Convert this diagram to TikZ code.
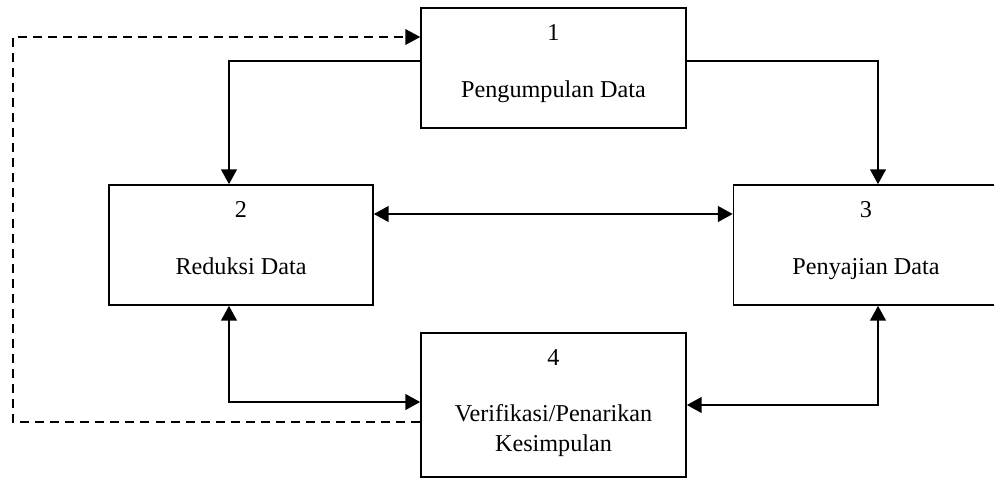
\documentclass[tikz,border=0pt]{standalone}
\usepackage{fontspec}
\setmainfont{Liberation Serif}
\usetikzlibrary{arrows.meta}

\begin{document}
\begin{tikzpicture}[
  box/.style={draw, line width=1.1pt, minimum width=6.625cm, minimum height=3cm, inner sep=0pt},
  lbl/.style={anchor=base, inner sep=0pt, font=\fontsize{17.2}{21}\selectfont},
  flow/.style={line width=1.7pt, -{Triangle[length=10.5pt,width=11pt]}},
  both/.style={line width=1.7pt, {Triangle[length=10.5pt,width=11pt]}-{Triangle[length=10.5pt,width=11pt]}},
  back/.style={line width=1.2pt, dash pattern=on 6.4pt off 4.3pt, -{Triangle[length=10.5pt,width=11pt]}}]
\useasboundingbox (0,0) rectangle (24.85,-11.975);

% boxes
\node[box] (peng) at (13.8375,-1.7) {};
\node[box, minimum width=6.6cm] (red) at (6.025,-6.125) {};
\node[box] (saji) at (21.65,-6.125) {};
\node[box, minimum height=3.6cm] (veri) at (13.8375,-10.125) {};

% texts
\path (peng.north) ++(0,-0.825) node[lbl] (n1) {1};
\path (peng.north) ++(0,-2.25) node[lbl] (t1) {Pengumpulan Data};
\path (red.north) ++(0,-0.825) node[lbl] (n2) {2};
\path (red.north) ++(0,-2.25) node[lbl] (t2) {Reduksi Data};
\path (saji.north) ++(0,-0.825) node[lbl] (n3) {3};
\path (saji.north) ++(0,-2.25) node[lbl] (t3) {Penyajian Data};
\path (veri.north) ++(0,-0.825) node[lbl] (n4) {4};
\path (veri.north) ++(0,-2.225) node[lbl] (t4) {Verifikasi/Penarikan};
\path (veri.north) ++(0,-2.975) node[lbl] (t4b) {Kesimpulan};

% arrows
\draw[flow] ([yshift=0.175cm]peng.west) -| ([xshift=-0.3cm]red.north);
\draw[flow] ([yshift=0.175cm]peng.east) -| ([xshift=0.3cm]saji.north);
\draw[both] ([yshift=0.775cm]red.east) -- ([yshift=0.775cm]saji.west);
\draw[both] ([xshift=-0.3cm]red.south) |- ([yshift=0.075cm]veri.west);
\draw[both] ([xshift=0.3cm]saji.south) |- (veri.east);

% feedback
\coordinate (loop) at (0.325,-0.925);
\draw[back] ([yshift=-0.425cm]veri.west) -| (loop) -- ([yshift=0.775cm]peng.west);
\end{tikzpicture}
\end{document}
